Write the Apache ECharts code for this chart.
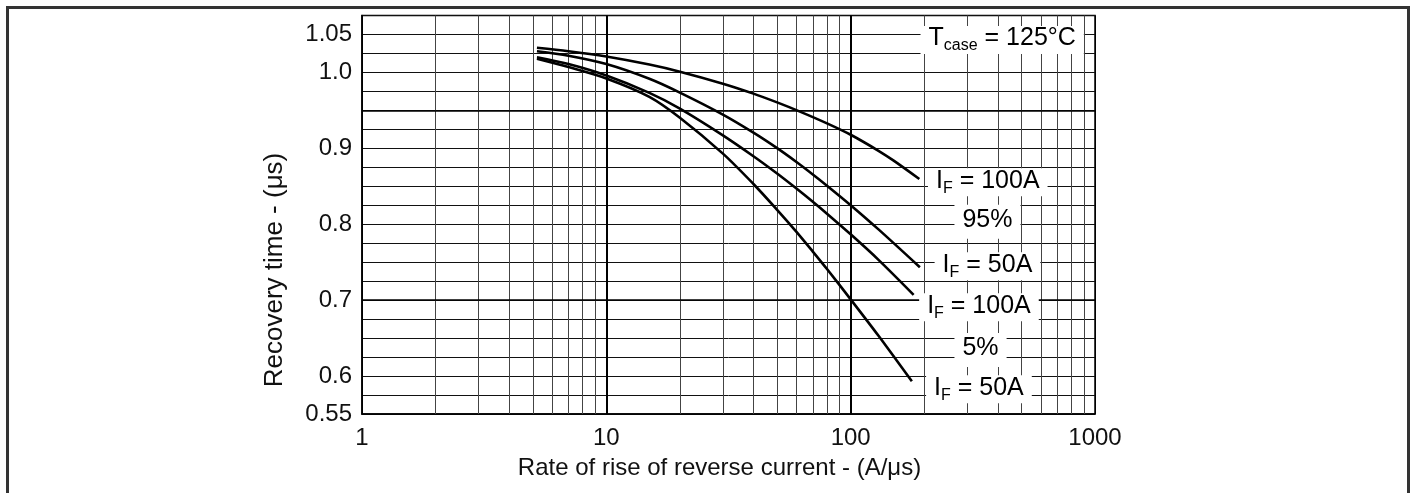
<!DOCTYPE html>
<html>
<head>
<meta charset="utf-8">
<script src="https://cdn.jsdelivr.net/npm/echarts@6/dist/echarts.min.js"></script>
<style>
html,body{margin:0;padding:0;background:#fff;}
#chart{width:1412px;height:493px;}
</style>
</head>
<body>
<div id="chart"></div>
<script>
// ---- data ----
const xTickValues = [1, 10, 100, 1000];
const xMinorGrid = [2,3,4,5,6,7,8,9,20,30,40,50,60,70,80,90,200,300,400,500,600,700,800,900];
const xMajorGrid = [10, 100];
const yTickValues = [0.55, 0.6, 0.7, 0.8, 0.9, 1.0, 1.05];
const yTickLabels = ['0.55', '0.6', '0.7', '0.8', '0.9', '1.0', '1.05'];
const yHeavyGrid = [0.95, 0.7];

const c1X = [5.2, 7, 10, 15, 20, 30, 40, 50, 62, 80, 100, 130, 150, 191];
const c1Y = [1.0325, 1.028, 1.021, 1.0104, 1.001, 0.9852, 0.9721, 0.9605, 0.9484, 0.9329, 0.9179, 0.8968, 0.8838, 0.8596];
const c2X = [5.2, 7, 10, 15, 20, 30, 40, 50, 60, 70, 80, 100, 130, 192];
const c2Y = [1.028, 1.022, 1.011, 0.9916, 0.9734, 0.9444, 0.9206, 0.9002, 0.882, 0.8656, 0.8508, 0.8251, 0.7932, 0.7433];
const c3X = [5.2, 7, 10, 15, 20, 30, 40, 50, 60, 70, 80, 100, 130, 181];
const c3Y = [1.020, 1.011, 0.9959, 0.973, 0.9523, 0.9171, 0.8896, 0.8668, 0.847, 0.8296, 0.8139, 0.7867, 0.7531, 0.707];
const c4X = [5.2, 7, 10, 15, 20, 30, 40, 50, 60, 70, 80, 100, 130, 178];
const c4Y = [1.018, 1.007, 0.992, 0.9678, 0.9403, 0.893, 0.853, 0.819, 0.790, 0.764, 0.741, 0.701, 0.653, 0.593];

// annotation texts and anchors (data coordinates)
const annTexts = ['T|case| = 125°C', 'I|F| = 100A', '95%', 'I|F| = 50A', 'I|F| = 100A', '5%', 'I|F| = 50A'];
const annX = [417, 364, 363, 363, 335, 340, 335];
const annY = [1.048, 0.8605, 0.8086, 0.750, 0.696, 0.6395, 0.588];

// ---- build ----
const FONT = '"Liberation Sans", Arial, sans-serif';
const zip = (xs, ys) => xs.map((x, i) => [x, ys[i]]);

function richLabel(t) {
  const parts = t.split('|');
  if (parts.length === 1) return '{m|' + t + '}';
  return '{m|' + parts[0] + '}{s|' + parts[1] + '}{m|' + parts[2] + '}';
}

const curveStyle = {color: '#000', width: 2.6};
function curve(name, xs, ys) {
  return {
    name, type: 'line', data: zip(xs, ys), smooth: 0.3, symbol: 'none',
    lineStyle: curveStyle, silent: true, z: 5
  };
}

const chart = echarts.init(document.getElementById('chart'), null, {renderer: 'canvas'});
const option = {
  animation: false,
  backgroundColor: '#fff',
  graphic: [{
    type: 'rect', left: 5, top: 5, z: 100,
    shape: {width: 1401, height: 520},
    style: {fill: 'none', stroke: '#333', lineWidth: 3}
  }, {
    type: 'text', x: 275, y: 270, rotation: Math.PI / 2, z: 50,
    style: {text: 'Recovery time - (μs)', font: '26px "Liberation Sans", Arial, sans-serif',
      fill: '#111', textAlign: 'center', textVerticalAlign: 'middle'}
  }],
  grid: {left: 362, top: 15.5, right: 317, bottom: 79, show: true, borderColor: '#000', borderWidth: 1.5, backgroundColor: 'transparent'},
  xAxis: {
    type: 'log', logBase: 10, min: 1, max: 1000,
    name: 'Rate of rise of reverse current - (A/μs)',
    nameLocation: 'middle', nameGap: 42,
    nameTextStyle: {fontFamily: FONT, fontSize: 24, color: '#111', padding: [0, 18, 0, 0]},
    axisLine: {show: true, lineStyle: {color: '#000', width: 1.5}},
    axisTick: {show: false},
    splitLine: {show: true, lineStyle: {color: '#000', width: 1}},
    axisLabel: {fontFamily: FONT, fontSize: 24, color: '#111', margin: 12,
      formatter: v => xTickValues.includes(Math.round(v)) ? String(Math.round(v)) : ''}
  },
  yAxis: {
    type: 'value', min: 0.55, max: 1.075, interval: 0.025,
    axisLine: {show: true, lineStyle: {color: '#000', width: 1.5}},
    axisTick: {show: false},
    splitLine: {show: true, lineStyle: {color: '#111', width: 1}},
    axisLabel: {fontFamily: FONT, fontSize: 24, color: '#111', margin: 10,
      formatter: v => {
        const i = yTickValues.findIndex(t => Math.abs(t - v) < 1e-6);
        return i >= 0 ? yTickLabels[i] : '';
      }}
  },
  series: [
    {
      name: 'grid', type: 'line', data: [], silent: true, z: 1,
      markLine: {
        silent: true, symbol: 'none', animation: false,
        label: {show: false},
        data: [
          ...xMinorGrid.map(v => ({xAxis: v, lineStyle: {color: '#444', width: 1, type: 'solid'}})),
          ...xMajorGrid.map(v => ({xAxis: v, lineStyle: {color: '#000', width: 2, type: 'solid'}})),
          ...yHeavyGrid.map(v => ({yAxis: v, lineStyle: {color: '#000', width: 1.6, type: 'solid'}}))
        ]
      }
    },
    curve('IF=100A 95%', c1X, c1Y),
    curve('IF=50A 95%', c2X, c2Y),
    curve('IF=100A 5%', c3X, c3Y),
    curve('IF=50A 5%', c4X, c4Y),
    {
      name: 'labels', type: 'scatter', symbolSize: 0, silent: true, z: 10,
      itemStyle: {color: '#000', opacity: 1},
      emphasis: {disabled: true},
      data: annTexts.map((t, i) => ({
        value: [annX[i], annY[i]],
        label: {
          show: true, position: [0, 4], align: 'center', verticalAlign: 'middle',
          formatter: richLabel(t),
          color: '#000', opacity: 1,
          backgroundColor: '#fff',
          padding: t.includes('|') ? [0, 8, 0, 8] : [3, 8, 3, 8],
          rich: {
            m: {fontFamily: FONT, fontSize: 25, color: '#000', lineHeight: 28, verticalAlign: 'top'},
            s: {fontFamily: FONT, fontSize: 16, color: '#000', lineHeight: 28, padding: [12, 0, 0, 0], verticalAlign: 'bottom'}
          }
        }
      }))
    }
  ]
};
chart.setOption(option);
</script>
</body>
</html>
